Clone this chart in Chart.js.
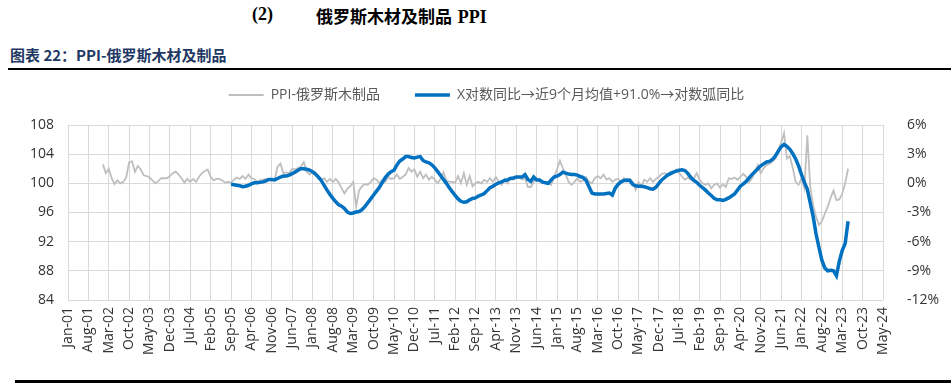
<!DOCTYPE html>
<html><head><meta charset="utf-8">
<script src="https://cdn.jsdelivr.net/npm/chart.js@4.4.0/dist/chart.umd.min.js"></script>
<style>
html,body{margin:0;padding:0;background:#fff;}
body{width:951px;height:387px;position:relative;overflow:hidden;}
#c{position:absolute;left:0;top:0;}
.t{position:absolute;white-space:nowrap;font-weight:bold;color:#000;}
#t1{left:252px;top:4px;font-family:"Liberation Serif",serif;font-size:18px;}
#t2{left:316px;top:3px;font-family:"Noto Sans CJK SC",sans-serif;font-size:17px;}
#t2 b{font-family:"Liberation Serif",serif;font-size:18px;margin-left:2px;}
#sub{left:10px;top:44px;font-family:"Noto Sans CJK SC",sans-serif;font-size:15px;color:#1F3864;}
#l1{position:absolute;left:8px;right:0;top:68px;height:2px;background:#000;}
#l2{position:absolute;left:15px;right:0;top:380px;height:3px;background:#000;}
</style></head>
<body>
<div class="t" id="t1">(2)</div>
<div class="t" id="t2">俄罗斯木材及制品 <b>PPI</b></div>
<div class="t" id="sub">图表 22：PPI-俄罗斯木材及制品</div>
<div id="l1"></div>
<canvas id="c" width="951" height="387"></canvas>
<div id="l2"></div>
<script>
// ---- data ----
const monthNames = ['Jan','Feb','Mar','Apr','May','Jun','Jul','Aug','Sep','Oct','Nov','Dec'];
const firstYear = 2001, lastYear = 2024, lastMonth = 5; // Jan-01 .. May-24
const tickEvery = 7;
const grayLabel = 'PPI-俄罗斯木制品';
const blueLabel = 'X对数同比→近9个月均值+91.0%→对数弧同比';
const grayStart = 'Jan-02';
const blueStart = 'Sep-05';
const grayValues = [
  102.6,101.4,102.0,100.7,99.9,100.4,100.0,100.2,100.8,102.9,103.0,101.6, // 2002
  102.4,101.9,101.1,101.0,100.8,100.4,100.0,100.3,100.7,100.7,100.7,101.0, // 2003
  101.4,101.6,101.2,100.7,100.1,100.6,100.2,100.6,100.2,100.9,101.4,101.7, // 2004
  101.9,100.9,100.4,100.6,100.6,100.4,100.1,100.2,100.1,100.5,100.8,100.6, // 2005
  101.0,100.6,101.2,100.7,100.6,100.2,100.4,100.5,100.6,100.5,100.6,100.5, // 2006
  102.3,102.7,101.4,101.5,101.4,102.0,101.9,102.1,102.3,102.9,101.6,101.2, // 2007
  101.6,101.5,100.9,100.5,100.7,100.2,100.6,100.2,100.6,100.1,99.3,98.6,   // 2008
  99.3,99.6,100.2,96.8,99.0,99.6,99.9,99.8,100.2,100.7,100.5,100.0,        // 2009
  100.5,100.2,100.9,100.6,100.7,101.2,100.6,100.9,101.2,102.1,101.6,101.9, // 2010
  100.9,101.6,100.7,101.2,100.5,100.9,100.5,100.0,100.6,101.5,100.4,100.2, // 2011
  100.2,100.1,101.0,100.0,101.4,99.8,101.0,99.6,100.0,100.2,100.0,100.5,   // 2012
  100.2,100.7,100.2,100.9,100.2,99.8,100.6,100.0,100.7,100.5,100.8,100.9,  // 2013
  100.5,100.7,99.5,99.5,100.2,100.7,100.4,100.0,100.2,100.1,99.8,100.9,    // 2014
  101.9,103.1,102.1,101.2,100.2,99.8,100.2,100.7,100.2,100.4,100.9,100.2,  // 2015
  100.0,100.7,101.0,100.7,101.2,100.5,100.7,100.2,100.5,100.6,100.2,100.7, // 2016
  100.2,100.6,100.2,99.1,100.2,99.6,100.5,100.2,100.7,100.2,100.6,100.9,   // 2017
  101.3,101.4,101.2,101.6,101.4,101.9,101.4,100.9,100.5,100.8,100.5,100.7, // 2018
  101.4,100.5,100.0,99.8,100.0,99.3,99.8,100.0,99.4,99.9,99.5,100.7,       // 2019
  100.6,100.8,100.5,100.9,101.3,100.9,100.2,100.7,101.6,102.5,101.4,102.1, // 2020
  102.5,102.7,103.0,103.4,104.6,105.5,106.9,103.4,103.7,102.1,100.2,99.8,  // 2021
  100.7,99.3,106.6,99.5,97.0,95.4,94.3,94.8,95.8,96.8,98.0,99.0,           // 2022
  97.7,97.8,98.6,100.0,102.0                                               // 2023
];
const blueValues = [
  -0.1,-0.15,-0.2,-0.25,                                        // 2005
  -0.35,-0.3,-0.2,-0.05,0.05,0.05,0.1,0.15,0.25,0.4,0.4,0.35,   // 2006
  0.5,0.65,0.75,0.75,0.85,1.0,1.15,1.35,1.5,1.5,1.45,1.35,      // 2007
  1.2,0.95,0.65,0.3,-0.2,-0.7,-1.15,-1.55,-1.9,-2.2,-2.35,-2.6, // 2008
  -2.95,-3.1,-3.05,-2.95,-2.9,-2.7,-2.4,-2.0,-1.6,-1.2,-0.8,-0.4, // 2009
  0.1,0.6,0.95,1.2,1.35,1.9,2.3,2.5,2.75,2.75,2.65,2.6,         // 2010
  2.7,2.75,2.35,2.2,2.1,1.9,1.6,1.2,0.8,0.4,0.0,-0.45,          // 2011
  -0.85,-1.25,-1.6,-1.85,-1.95,-1.9,-1.7,-1.55,-1.5,-1.3,-1.2,-1.05, // 2012
  -0.75,-0.45,-0.3,-0.1,0.05,0.15,0.3,0.35,0.5,0.55,0.65,0.65,  // 2013
  0.65,0.9,0.4,0.2,0.65,0.35,0.35,0.15,0.05,0.0,0.35,0.65,      // 2014
  0.75,0.9,1.15,1.05,0.95,0.9,0.9,0.85,0.7,0.6,0.3,-0.35,       // 2015
  -1.0,-1.1,-1.1,-1.1,-1.1,-1.05,-1.0,-1.2,-0.5,-0.1,0.15,0.3,  // 2016
  0.35,0.3,-0.1,-0.25,-0.3,-0.3,-0.35,-0.45,-0.55,-0.6,-0.4,0.0, // 2017
  0.35,0.6,0.85,1.0,1.15,1.25,1.35,1.4,1.3,1.0,0.6,0.3,         // 2018
  0.1,-0.2,-0.45,-0.7,-1.0,-1.25,-1.55,-1.7,-1.7,-1.75,-1.65,-1.5, // 2019
  -1.3,-1.1,-0.7,-0.3,-0.05,0.2,0.55,0.9,1.2,1.5,1.8,2.0,       // 2020
  2.2,2.25,2.45,2.8,3.3,3.75,4.0,3.8,3.5,3.05,2.5,1.8,          // 2021
  0.9,0.1,-0.6,-2.0,-3.4,-5.2,-6.6,-7.9,-8.7,-9.0,-8.95,-9.0,   // 2022
  -9.5,-8.0,-6.9,-6.2,-3.9                                      // 2023
];
const leftTicks = {min: 84, max: 108, step: 4};
const rightTicks = {min: -12, max: 6, step: 3};

// ---- build ----
const months = [];
for (let y = firstYear; y <= lastYear; y++) {
  for (let m = 0; m < 12; m++) {
    if (y === lastYear && m >= lastMonth) break;
    months.push(monthNames[m] + '-' + String(y % 100).padStart(2, '0'));
  }
}
function place(values, start) {
  const arr = new Array(months.length).fill(null);
  const s = months.indexOf(start);
  values.forEach((v, i) => { if (s + i < arr.length) arr[s + i] = v; });
  return arr;
}
const grayData = place(grayValues, grayStart);
const blueData = place(blueValues, blueStart);

const LEGEND_H = 72;
const legendFix = {
  id: 'legendFix',
  beforeLayout(chart) {
    const lg = chart.legend;
    if (lg && !lg._fixed) {
      const f = lg.fit;
      lg.fit = function () { f.call(this); this.height = LEGEND_H; };
      lg._fixed = true;
    }
  }
};

const tickFont = {family: '"Open Sans", "DejaVu Sans", sans-serif', size: 14};
const gridColor = '#D9D9D9';

new Chart(document.getElementById('c').getContext('2d'), {
  type: 'line',
  data: {
    labels: months,
    datasets: [
      {label: grayLabel, data: grayData, yAxisID: 'y', borderColor: '#BFBFBF', backgroundColor: '#BFBFBF',
       borderWidth: 1.8, pointRadius: 0, tension: 0, order: 2},
      {label: blueLabel, data: blueData, yAxisID: 'y1', borderColor: '#0070C0', backgroundColor: '#0070C0',
       borderWidth: 3.5, pointRadius: 0, tension: 0, order: 1}
    ]
  },
  options: {
    responsive: false, animation: false, devicePixelRatio: 1,
    layout: {padding: {left: 22, right: 0, top: 53, bottom: 0}},
    plugins: {
      legend: {
        position: 'top',
        labels: {
          usePointStyle: true, pointStyle: 'line', pointStyleWidth: 35, padding: 35,
          color: '#595959', font: {family: '"Open Sans", "Noto Sans CJK SC", sans-serif', size: 14},
          sort: (a, b) => a.datasetIndex - b.datasetIndex
        }
      },
      tooltip: {enabled: false}
    },
    scales: {
      x: {
        type: 'category', offset: false,
        grid: {color: c => (c.index % tickEvery === 0 ? gridColor : 'rgba(0,0,0,0)'), drawTicks: false, lineWidth: 1},
        border: {display: false},
        ticks: {
          autoSkip: false, maxRotation: 90, minRotation: 90, padding: 7, color: '#333', font: tickFont,
          callback: function (v, i) { return i % tickEvery === 0 ? this.getLabelForValue(v) : ''; }
        },
        afterFit: s => { s.height = 87; }
      },
      y: {
        position: 'left', min: leftTicks.min, max: leftTicks.max,
        ticks: {stepSize: leftTicks.step, padding: 14, color: '#333', font: tickFont},
        grid: {color: gridColor, drawTicks: false}, border: {display: false},
        afterFit: s => { s.width = 46; }
      },
      y1: {
        position: 'right', min: rightTicks.min, max: rightTicks.max,
        ticks: {stepSize: rightTicks.step, padding: 16, color: '#333', font: tickFont, callback: v => v + '%'},
        grid: {display: false}, border: {display: false},
        afterFit: s => { s.width = 68; }
      }
    }
  },
  plugins: [legendFix]
});
</script>
</body></html>
